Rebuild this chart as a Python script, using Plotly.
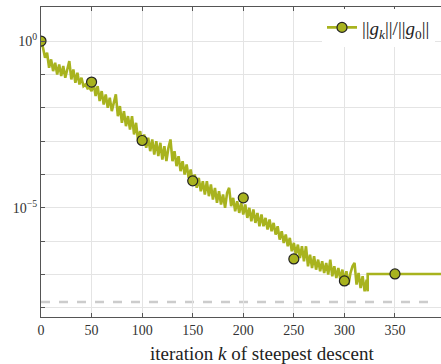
import plotly.graph_objects as go

# ---- data (log10 of ||g_k||/||g_0||) ----
iters = list(range(0, 323, 2)) + [323]
log_ratio = [
    0.0, -0.2, -0.5, -0.35, -0.8, -0.55, -0.9, -0.65, -1.0, -0.7,
    -1.05, -0.75, -1.1, -0.8, -0.6, -1.15, -0.85, -1.25, -0.95, -1.3,
    -1.1, -1.35, -1.3, -1.42, -1.4, -1.5, -1.25, -1.65, -1.35, -1.8,
    -1.5, -1.9, -1.6, -2.0, -1.7, -2.1, -1.8, -1.6, -2.25, -1.95,
    -2.45, -2.1, -2.55, -2.25, -2.65, -2.25, -2.8, -2.45, -3.0, -2.7,
    -3.1, -2.8, -3.2, -2.9, -3.3, -2.95, -3.4, -3.0, -3.45, -3.05,
    -3.55, -3.15, -3.6, -3.2, -2.95, -3.6, -3.3, -3.75, -3.45, -3.9,
    -3.6, -4.0, -3.7, -4.1, -3.85, -4.25, -4.0, -4.4, -4.1, -4.5,
    -4.2, -4.6, -4.2, -4.65, -4.3, -4.75, -4.4, -4.85, -4.5, -4.9,
    -4.6, -5.0, -4.55, -4.4, -4.95, -4.7, -5.1, -4.8, -5.15, -4.85,
    -5.2, -4.9, -5.3, -5.0, -5.4, -5.05, -5.45, -5.15, -5.55, -5.2,
    -5.55, -5.3, -5.65, -5.35, -5.7, -5.45, -5.8, -5.55, -5.95, -5.7,
    -6.05, -5.8, -6.15, -5.9, -6.3, -6.05, -6.4, -6.1, -6.5, -6.15,
    -6.6, -6.15, -6.75, -6.4, -6.8, -6.45, -6.85, -6.55, -6.9, -6.6,
    -6.95, -6.65, -7.0, -6.55, -7.05, -6.75, -7.1, -6.8, -7.15, -6.85,
    -7.2, -6.9, -7.3, -6.95, -6.75, -6.65, -7.3, -6.95, -7.4, -7.05,
    -7.5, -7.15, -7.5,
]
stall_iters = [323, 440]
stall_log = [-6.98, -6.98]

marker_iters = [0, 50, 100, 150, 200, 250, 300, 350]
marker_log = [0.0, -1.23, -2.98, -4.19, -4.7, -6.53, -7.19, -6.98]

tolerance = 1.5e-8

x_ticks = [0, 50, 100, 150, 200, 250, 300, 350]
y_major_exp = [0, -5]
y_major_text = ["10<sup>0</sup>", "10<sup>−5</sup>"]
y_minor_exp = [-8, -7, -6, -4, -3, -2, -1, 1]

# ---- figure ----
COLOR = "#a8b31e"
FONT = "Liberation Serif"
GRID = "#e4e4e4"
AXIS = "#555555"

line_x = iters + stall_iters
line_y = [10 ** v for v in log_ratio] + [10 ** v for v in stall_log]

fig = go.Figure()
fig.add_trace(go.Scatter(x=line_x, y=line_y, mode="lines",
                         line=dict(color=COLOR, width=2.6), showlegend=False,
                         hoverinfo="skip"))
fig.add_trace(go.Scatter(x=marker_iters, y=[10 ** v for v in marker_log],
                         mode="markers", showlegend=False,
                         marker=dict(color=COLOR, size=10,
                                     line=dict(color="#222222", width=1.2))))
fig.add_trace(go.Scatter(x=[None], y=[None], mode="lines+markers",
                         name="||<i>g</i><sub><i>k</i></sub>||/||<i>g</i><sub>0</sub>||",
                         line=dict(color=COLOR, width=2.6),
                         marker=dict(color=COLOR, size=10,
                                     line=dict(color="#222222", width=1.2))))

fig.add_shape(type="line", xref="paper", x0=0, x1=0.98, yref="y",
              y0=tolerance, y1=tolerance,
              line=dict(color="#cccccc", width=2.5, dash="dash"), layer="below")

fig.update_layout(
    width=441, height=364,
    margin=dict(l=41, r=0, t=7, b=47),
    paper_bgcolor="white", plot_bgcolor="white",
    font=dict(family=FONT, size=14, color="#333333"),
    legend=dict(x=0.985, xanchor="right", y=0.995, yanchor="top",
                bgcolor="white", borderwidth=0,
                font=dict(family=FONT, size=19, color="#222222")),
    xaxis=dict(range=[0, 395.5], tickvals=x_ticks, ticks="inside", ticklen=4,
               tickcolor=AXIS, showline=True, linecolor=AXIS,
               linewidth=1, mirror="ticks", showgrid=True,
               gridcolor=GRID, gridwidth=1, zeroline=False,
               tickfont=dict(size=14)),
    yaxis=dict(type="log", range=[-8.27, 1.02],
               tickvals=[10 ** e for e in y_major_exp],
               ticktext=y_major_text,
               ticks="inside", ticklen=4, tickcolor=AXIS,
               showline=True, linecolor=AXIS, linewidth=1,
               showgrid=True, gridcolor=GRID, gridwidth=1,
               zeroline=False, tickfont=dict(size=14),
               minor=dict(tickvals=[10 ** e for e in y_minor_exp],
                          ticks="inside", ticklen=4, tickcolor=AXIS,
                          showgrid=True, gridcolor=GRID, gridwidth=1)),
    annotations=[dict(text="iteration <i>k</i> of steepest descent",
                      xref="paper", yref="paper", x=0.5525, y=-0.118,
                      xanchor="center", yanchor="middle", showarrow=False,
                      font=dict(family=FONT, size=19, color="#222222"))],
)

fig.write_html("out.html")
